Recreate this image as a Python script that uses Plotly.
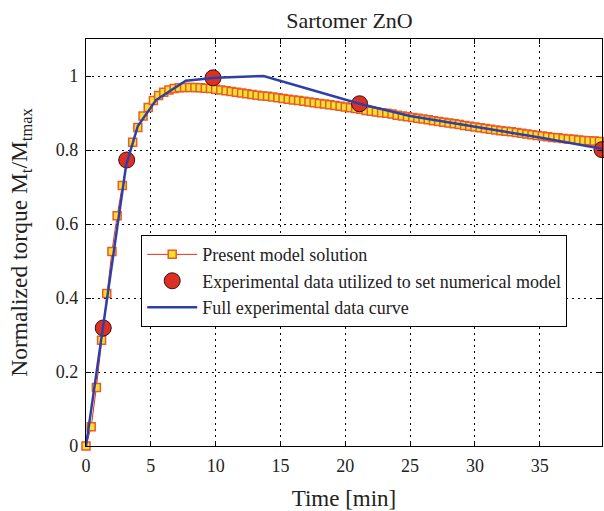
import plotly.graph_objects as go

# Present model solution
model_t = [0.0, 0.4, 0.8, 1.2, 1.6, 2.0, 2.4, 2.8, 3.2, 3.6, 4.0, 4.4, 4.8, 5.2, 5.6, 6.0, 6.4, 6.8, 7.2, 7.6,
           8.0, 8.4, 8.8, 9.2, 9.6, 10.0, 10.4, 10.8, 11.2, 11.6, 12.0, 12.4, 12.8, 13.2, 13.6, 14.0, 14.4, 14.8, 15.2, 15.6,
           16.0, 16.4, 16.8, 17.2, 17.6, 18.0, 18.4, 18.8, 19.2, 19.6, 20.0, 20.4, 20.8, 21.2, 21.6, 22.0, 22.4, 22.8, 23.2, 23.6,
           24.0, 24.4, 24.8, 25.2, 25.6, 26.0, 26.4, 26.8, 27.2, 27.6, 28.0, 28.4, 28.8, 29.2, 29.6, 30.0, 30.4, 30.8, 31.2, 31.6,
           32.0, 32.4, 32.8, 33.2, 33.6, 34.0, 34.4, 34.8, 35.2, 35.6, 36.0, 36.4, 36.8, 37.2, 37.6, 38.0, 38.4, 38.8, 39.2, 39.6]
model_y = [0.000, 0.052, 0.158, 0.286, 0.412, 0.526, 0.622, 0.704, 0.770, 0.821, 0.861, 0.892, 0.915, 0.934, 0.947, 0.956, 0.962, 0.966, 0.968, 0.969,
           0.969, 0.969, 0.968, 0.967, 0.966, 0.964, 0.962, 0.960, 0.958, 0.956, 0.954, 0.952, 0.950, 0.948, 0.946, 0.945, 0.943, 0.941, 0.939, 0.937,
           0.935, 0.934, 0.932, 0.930, 0.928, 0.926, 0.924, 0.922, 0.920, 0.918, 0.916, 0.914, 0.912, 0.910, 0.907, 0.905, 0.903, 0.901, 0.899, 0.897,
           0.894, 0.892, 0.890, 0.888, 0.886, 0.884, 0.882, 0.879, 0.877, 0.875, 0.873, 0.871, 0.869, 0.866, 0.864, 0.862, 0.860, 0.858, 0.856, 0.854,
           0.852, 0.851, 0.849, 0.847, 0.845, 0.843, 0.841, 0.839, 0.838, 0.836, 0.834, 0.833, 0.831, 0.830, 0.829, 0.827, 0.826, 0.825, 0.824, 0.823]

# Experimental data utilized to set numerical model
exp_t = [1.33, 3.14, 9.8, 21.1, 39.8]
exp_y = [0.319, 0.773, 0.995, 0.925, 0.801]

# Full experimental data curve
full_t = [0.0, 1.3, 2.4, 3.1, 4.0, 5.4, 7.7, 10.0, 13.7, 21.1, 25.0, 30.0, 35.0, 39.8]
full_y = [0.0, 0.32, 0.59, 0.76, 0.865, 0.935, 0.987, 0.995, 1.0, 0.925, 0.892, 0.864, 0.834, 0.803]

x_ticks = [0, 5, 10, 15, 20, 25, 30, 35]
y_ticks = [0, 0.2, 0.4, 0.6, 0.8, 1]
y_ticklabels = ["0", "0.2", "0.4", "0.6", "0.8", "1"]

FONT = "Times New Roman, Liberation Serif, DejaVu Serif, serif"
TXT = "#222222"

fig = go.Figure()
fig.add_trace(go.Scatter(
    x=model_t, y=model_y, mode="lines+markers", name="Present model solution",
    line=dict(color="#e0301e", width=1),
    marker=dict(symbol="square", size=8, color="#f2e22c", line=dict(color="#ea5a2a", width=1.5)),
    cliponaxis=False,
))
fig.add_trace(go.Scatter(
    x=exp_t, y=exp_y, mode="markers", name="Experimental data utilized to set numerical model",
    marker=dict(symbol="circle", size=16, color="#dd3025", line=dict(color="#3a1010", width=1)),
    cliponaxis=False,
))
fig.add_trace(go.Scatter(
    x=full_t, y=full_y, mode="lines", name="Full experimental data curve",
    line=dict(color="#2e40a6", width=2.5),
))

axis_common = dict(
    showline=True, linecolor="black", linewidth=1.2, mirror="ticks",
    ticks="inside", ticklen=5, tickcolor="black",
    showgrid=True, gridcolor="black", gridwidth=1, griddash="2px,4px",
    zeroline=False, tickfont=dict(family=FONT, size=18, color=TXT),
)

fig.update_xaxes(range=[0, 39.8], tickvals=x_ticks, ticklabelstandoff=3, **axis_common,
                 title=dict(text="Time [min]", font=dict(family=FONT, size=23, color=TXT), standoff=16))
fig.update_yaxes(range=[0, 1.1], tickvals=y_ticks, ticktext=y_ticklabels, ticklabelstandoff=3, **axis_common,
                 title=dict(text="Normalized torque M<sub>t</sub>/M<sub>tmax</sub>",
                            font=dict(family=FONT, size=23.5, color=TXT), standoff=21))

fig.update_layout(
    width=604, height=511,
    margin=dict(l=86, r=2, t=39, b=65),
    paper_bgcolor="white", plot_bgcolor="white",
    font=dict(family=FONT, color=TXT),
    title=dict(text="Sartomer ZnO", x=349.5 / 604, xanchor="center",
               y=1 - 20 / 511, yanchor="middle", font=dict(family=FONT, size=22, color=TXT)),
    showlegend=True,
    legend=dict(x=0.107, y=0.518, xanchor="left", yanchor="top",
                bgcolor="white", bordercolor="black", borderwidth=1,
                font=dict(family=FONT, size=18, color=TXT),
                itemwidth=50, tracegroupgap=0),
)

fig.write_html("out.html")
